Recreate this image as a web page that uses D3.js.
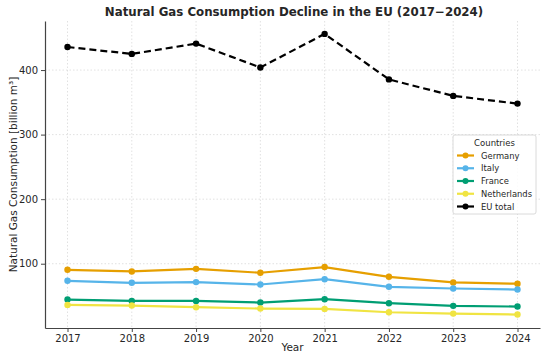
<!DOCTYPE html>
<html>
<head>
<meta charset="utf-8">
<script src="https://cdn.jsdelivr.net/npm/d3@7"></script>
<style>
  body { margin: 0; background: #fff; }
  text { font-family: "DejaVu Sans", sans-serif; fill: #262626; }
  .grid line { stroke: #d9d9d9; stroke-dasharray: 1.5 2; stroke-width: 0.8; }
  .axis path, .axis line { stroke: #444; }
</style>
</head>
<body>
<div id="chart"></div>
<script>
var years = [2017, 2018, 2019, 2020, 2021, 2022, 2023, 2024];
var germany = [90.6, 88, 92, 86, 94.8, 79.7, 71, 69];
var italy = [73.5, 70.4, 71.5, 67.8, 76, 64.2, 61.6, 60];
var france = [44.5, 42.4, 42.4, 39.8, 45, 38.8, 34.7, 33.6];
var netherlands = [36.2, 35.2, 32.6, 30.5, 30, 24.8, 22.7, 21.2];
var euTotal = [435.7, 425, 441, 404, 456, 385.5, 360, 348];
var yTicks = [100, 200, 300, 400];

var series = [
  { name: "Germany", values: germany, color: "#E69F00", dash: null },
  { name: "Italy", values: italy, color: "#56B4E9", dash: null },
  { name: "France", values: france, color: "#009E73", dash: null },
  { name: "Netherlands", values: netherlands, color: "#F0E442", dash: null },
  { name: "EU total", values: euTotal, color: "#000000", dash: "7,4" }
];

var svgWidth = 550;
var svgHeight = 359;
var margin = { top: 21, right: 10, bottom: 31, left: 45 };
var width = svgWidth - margin.left - margin.right;
var height = svgHeight - margin.top - margin.bottom;

var svg = d3.select("#chart")
  .append("svg")
  .attr("width", svgWidth)
  .attr("height", svgHeight);

var chartGroup = svg.append("g")
  .attr("transform", `translate(${margin.left}, ${margin.top})`);

var xScale = d3.scaleLinear()
  .domain([2016.65, 2024.35])
  .range([0, width]);

var yScale = d3.scaleLinear()
  .domain([0.4, 476])
  .range([height, 0]);

// gridlines
chartGroup.append("g")
  .attr("class", "grid")
  .selectAll("line.v")
  .data(years)
  .enter()
  .append("line")
  .attr("x1", d => xScale(d))
  .attr("x2", d => xScale(d))
  .attr("y1", 0)
  .attr("y2", height);

chartGroup.append("g")
  .attr("class", "grid")
  .selectAll("line.h")
  .data(yTicks)
  .enter()
  .append("line")
  .attr("x1", 0)
  .attr("x2", width)
  .attr("y1", d => yScale(d))
  .attr("y2", d => yScale(d));

// axes
var bottomAxis = d3.axisBottom(xScale)
  .tickValues(years)
  .tickFormat(d3.format("d"))
  .tickSize(4)
  .tickSizeOuter(0);
var leftAxis = d3.axisLeft(yScale)
  .tickValues(yTicks)
  .tickSize(4)
  .tickSizeOuter(0);

var xAxis = chartGroup.append("g")
  .attr("class", "axis")
  .attr("transform", `translate(0, ${height})`)
  .call(bottomAxis);
var yAxis = chartGroup.append("g")
  .attr("class", "axis")
  .call(leftAxis);

chartGroup.selectAll(".axis text")
  .style("font-size", "10px")
  .style("font-family", "DejaVu Sans, sans-serif")
  .attr("fill", "#262626");
chartGroup.selectAll(".axis path").attr("stroke-width", 1.2);

// lines
var line = d3.line()
  .x((d, i) => xScale(years[i]))
  .y(d => yScale(d));

series.forEach(s => {
  chartGroup.append("path")
    .datum(s.values)
    .attr("fill", "none")
    .attr("stroke", s.color)
    .attr("stroke-width", 2.2)
    .attr("stroke-dasharray", s.dash)
    .attr("d", line);

  chartGroup.selectAll(null)
    .data(s.values)
    .enter()
    .append("circle")
    .attr("cx", (d, i) => xScale(years[i]))
    .attr("cy", d => yScale(d))
    .attr("r", 3.2)
    .attr("fill", s.color);
});

// title and labels
svg.append("text")
  .attr("x", 294)
  .attr("y", 16)
  .attr("text-anchor", "middle")
  .style("font-size", "11.8px")
  .style("font-weight", "bold")
  .text("Natural Gas Consumption Decline in the EU (2017\u22122024)");

svg.append("text")
  .attr("x", margin.left + width / 2)
  .attr("y", 351)
  .attr("text-anchor", "middle")
  .style("font-size", "10.5px")
  .text("Year");

svg.append("text")
  .attr("transform", `translate(17, ${margin.top + height / 2}) rotate(-90)`)
  .attr("text-anchor", "middle")
  .style("font-size", "10.5px")
  .text("Natural Gas Consumption [billion m\u00B3]");

// legend
var legend = svg.append("g")
  .attr("transform", "translate(453, 135)");

legend.append("rect")
  .attr("width", 83)
  .attr("height", 79)
  .attr("rx", 2)
  .attr("fill", "#fff")
  .attr("fill-opacity", 0.85)
  .attr("stroke", "#d0d0d0")
  .attr("stroke-width", 0.8);

legend.append("text")
  .attr("x", 41.5)
  .attr("y", 11)
  .attr("text-anchor", "middle")
  .style("font-size", "8.5px")
  .text("Countries");

series.forEach((s, i) => {
  var ly = 20.5 + i * 12.75;
  legend.append("line")
    .attr("x1", 4)
    .attr("x2", 21)
    .attr("y1", ly)
    .attr("y2", ly)
    .attr("stroke", s.color)
    .attr("stroke-width", 2.2);
  legend.append("circle")
    .attr("cx", 12.5)
    .attr("cy", ly)
    .attr("r", 3)
    .attr("fill", s.color);
  legend.append("text")
    .attr("x", 28)
    .attr("y", ly + 3.1)
    .style("font-size", "8.4px")
    .text(s.name);
});
</script>
</body>
</html>
